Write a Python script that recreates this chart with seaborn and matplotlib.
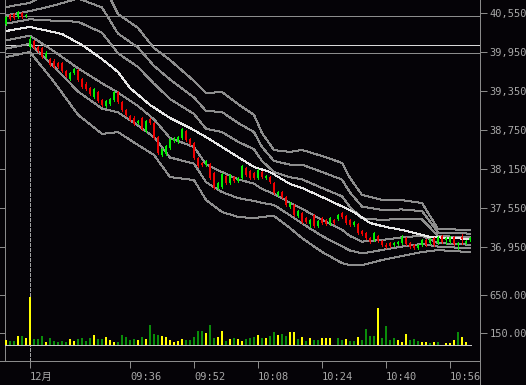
import matplotlib
matplotlib.use("Agg")
import numpy as np
import pandas as pd
import matplotlib.pyplot as plt
from matplotlib.lines import Line2D
import seaborn as sns

# ---------------- data ----------------
bar_index = list(range(-6, 111))
opens = [40380, 40520, 40535, 40490, 40550, 40505,
         40025, 40120, 40025, 40010, 39875, 39840, 39810, 39780, 39780, 39660,
         39535, 39625, 39675, 39535, 39460, 39395, 39260, 39335, 39210, 39120,
         39150, 39210, 39335, 39180, 39060, 38965, 38935, 38860, 38935, 38735,
         38920, 38860, 38640, 38365, 38380, 38475, 38580, 38565, 38625, 38735,
         38610, 38550, 38320, 38240, 38210, 38225, 38090, 37860, 37875, 38040,
         37935, 38025, 37965, 38010, 38165, 38120, 38090, 38010, 38105, 38010,
         38025, 37935, 37750, 37795, 37720, 37565, 37595, 37425, 37475, 37395,
         37305, 37440, 37275, 37395, 37365, 37305, 37365, 37380, 37475, 37425,
         37365, 37290, 37305, 37195, 37165, 37090, 37060, 37120, 37040, 36980,
         37010, 36980, 36995, 37010, 37090, 37010, 36980, 36935, 36980, 37060,
         37010, 37090, 37010, 37120, 37060, 37025, 37105, 36980, 37105, 37010,
         37060]
closes = [40490, 40460, 40475, 40565, 40490, 40520,
          40150, 40010, 39965, 39875, 39935, 39750, 39720, 39720, 39660, 39580,
          39625, 39690, 39520, 39410, 39380, 39305, 39380, 39195, 39135, 39195,
          39225, 39335, 39180, 39060, 38980, 38905, 38840, 38890, 38765, 38890,
          38860, 38625, 38395, 38460, 38505, 38610, 38610, 38640, 38765, 38595,
          38535, 38320, 38195, 38210, 38275, 38010, 37860, 37935, 38075, 37935,
          38060, 37965, 38010, 38195, 38060, 38010, 38010, 38135, 38025, 38040,
          37950, 37780, 37795, 37720, 37595, 37625, 37440, 37505, 37335, 37335,
          37365, 37275, 37350, 37320, 37305, 37395, 37320, 37440, 37410, 37320,
          37290, 37335, 37165, 37150, 37090, 37025, 37165, 37040, 36980, 36950,
          36965, 37010, 37025, 37105, 36995, 36950, 36935, 36980, 37060, 36980,
          37075, 36980, 37105, 37025, 37090, 37105, 36995, 37010, 37075, 37040,
          37090]
highs = [40505, 40535, 40550, 40580, 40565, 40535,
         40195, 40135, 40040, 40025, 39965, 39855, 39840, 39795, 39795, 39675,
         39640, 39705, 39690, 39550, 39490, 39410, 39395, 39350, 39225, 39210,
         39240, 39350, 39350, 39195, 39075, 38980, 38965, 38905, 38950, 38905,
         38935, 38875, 38655, 38475, 38520, 38625, 38640, 38655, 38780, 38750,
         38625, 38565, 38335, 38255, 38290, 38240, 38105, 37950, 38090, 38055,
         38075, 38040, 38025, 38210, 38180, 38135, 38105, 38150, 38120, 38055,
         38040, 37950, 37810, 37810, 37735, 37640, 37610, 37520, 37490, 37410,
         37380, 37455, 37365, 37410, 37380, 37410, 37380, 37455, 37490, 37440,
         37380, 37350, 37320, 37210, 37180, 37105, 37180, 37135, 37055, 37010,
         37025, 37025, 37040, 37135, 37105, 37025, 36995, 36995, 37075, 37075,
         37090, 37105, 37120, 37135, 37105, 37120, 37120, 37025, 37150, 37055,
         37105]
lows = [40365, 40445, 40460, 40475, 40475, 40490,
        40010, 39995, 39950, 39860, 39860, 39735, 39705, 39705, 39645, 39565,
        39520, 39610, 39505, 39395, 39365, 39290, 39245, 39180, 39120, 39105,
        39135, 39195, 39165, 39045, 38965, 38890, 38825, 38845, 38750, 38720,
        38845, 38610, 38380, 38350, 38365, 38460, 38565, 38550, 38610, 38580,
        38520, 38305, 38180, 38195, 38195, 37995, 37845, 37845, 37860, 37920,
        37920, 37950, 37950, 37995, 38045, 37995, 37995, 37995, 38010, 37995,
        37935, 37765, 37735, 37705, 37580, 37550, 37425, 37410, 37320, 37320,
        37260, 37260, 37260, 37305, 37290, 37290, 37305, 37365, 37395, 37305,
        37275, 37275, 37150, 37135, 37075, 37010, 37045, 37025, 36965, 36935,
        36950, 36965, 36980, 36995, 36980, 36935, 36920, 36920, 36965, 36965,
        36995, 36965, 36995, 37010, 36995, 37010, 36980, 36920, 37000, 36995,
        37045]
volumes = [65, 52, 52, 117, 117, 95,
           628, 78, 78, 117, 39, 91, 56, 39, 56, 39,
           78, 56, 78, 91, 52, 95, 130, 78, 78, 100,
           65, 39, 39, 130, 100, 65, 78, 65, 100, 78,
           260, 143, 130, 117, 100, 65, 39, 56, 78, 65,
           65, 100, 182, 182, 156, 260, 91, 104, 182, 52,
           78, 91, 78, 52, 78, 91, 104, 130, 91, 87,
           117, 169, 130, 143, 117, 169, 169, 78, 104, 52,
           91, 65, 65, 91, 91, 91, 0, 91, 65, 78,
           52, 52, 104, 65, 208, 117, 117, 481, 91, 247,
           65, 91, 65, 39, 143, 65, 78, 52, 39, 39,
           26, 39, 39, 0, 26, 26, 65, 169, 104, 39,
           0]
vol_colors = list("yggygy"
                  "yggg" "yggggg"
                  "yyggggygg" "yyyggggg" "ygy"
                  "gggyyyyyy" "gggggy" "ggyy"
                  "gygyygggyg"
                  "yggyggyygygygg" "yyygggy"
                  "ggyggggygggg"
                  "yyyggg" "yygygyyyy"
                  "gyyyy")

band_index = [-6, 0, 6, 12, 18, 22, 27, 31, 35, 41, 44, 48, 52, 56, 58, 61,
              65, 68, 73, 78, 80, 83, 88, 93, 98, 102, 110]
band_mid = [40258, 40327, 40196, 40058, 39858, 39627, 39419, 39188, 38927,
            38742, 38496, 38411, 38281, 38188, 38058, 37935, 37827, 37765,
            37612, 37473, 37342, 37212, 37212, 37242, 37250, 37065, 37042]
band_sigma = [128, 126, 235, 358, 389, 303, 300, 274, 300, 254, 274, 308, 289,
              265, 215, 169, 195, 226, 246, 257, 223, 180, 154, 143, 126, 54, 57]
# moving average (white line)
ma_index = [-6, 0, 8, 13, 18, 22, 25, 30, 35, 40, 44, 52, 56, 60, 65, 68, 73,
            81, 85, 89, 93, 100, 110]
ma_values = [40273, 40335, 40227, 40058, 39842, 39642, 39396, 39135, 38935,
             38781, 38642, 38335, 38181, 38104, 37919, 37858, 37719, 37488,
             37319, 37258, 37212, 37104, 37073]

ref_prices = [40505, 39930]
ref_price_bright = 40060
price_ticks = [36950, 37550, 38150, 38750, 39350, 39950, 40550]
vol_ticks = [150, 650]
time_tick_index = [0, 25, 41, 57, 73, 89, 105]
time_tick_labels = ["12月", "09:36", "09:52", "10:08", "10:24", "10:40", "10:56"]
session_break = 0

# ---------------- style ----------------
BG = "#050307"
AXC = "#8a8a8a"
TXT = "#a8a8a8"
UP = "#00f000"
DOWN = "#f00000"
VOL_C = {"y": "#ffff00", "g": "#0a8c0a"}
LW = 0.72

sns.set_theme(style="dark")
plt.rcParams["font.family"] = ["DejaVu Sans Mono", "Noto Sans CJK JP"]
plt.rcParams["lines.scale_dashes"] = False

W, H = 526, 385
fig = plt.figure(figsize=(W / 100, H / 100), dpi=100, facecolor=BG)
left, right, top, bottom = 5.3, 479.5, 0.0, 361.0
rect = [left / W, (H - bottom) / H, (right - left) / W, (bottom - top) / H]
ax = fig.add_axes(rect)
axv = fig.add_axes(rect)
ax.set_facecolor(BG)
axv.patch.set_alpha(0)


def price_at(ypix):
    return 40550 - (ypix - 13) * (600 / 39)


ax.set_ylim(price_at(bottom), price_at(top))
xl = ((left - 30) / 4, (right - 30) / 4)
ax.set_xlim(*xl)
axv.set_xlim(*xl)
axv.set_ylim((345 - bottom) * 13, 345 * 13)

# reference horizontal lines
for p in ref_prices:
    ax.axhline(p, color="#8c8c8c", lw=LW, antialiased=False, zorder=1)
ax.axhline(ref_price_bright, color="#d8d8d8", lw=LW, antialiased=False, zorder=1)

# bands
rows = []
for k in (-3, -2, -1, 1, 2, 3):
    for i, m, s in zip(band_index, band_mid, band_sigma):
        rows.append({"idx": i, "price": m + k * s, "band": f"{k:+d}"})
for i, m in zip(ma_index, ma_values):
    rows.append({"idx": i, "price": m, "band": "ma"})
bands = pd.DataFrame(rows)
pal = {f"{k:+d}": "#8e8e8e" for k in (-3, -2, -1, 1, 2, 3)}
pal["ma"] = "#e6e6e6"
sns.lineplot(data=bands, x="idx", y="price", hue="band", palette=pal,
             legend=False, ax=ax, linewidth=LW, sort=False, estimator=None,
             antialiased=False, zorder=2)
ax.set_xlabel("")
ax.set_ylabel("")

# candles
o = np.array(opens); c = np.array(closes)
cols = [UP if cc >= oo else DOWN for oo, cc in zip(o, c)]
ax.vlines(bar_index, lows, highs, colors=cols, lw=LW, antialiased=False, zorder=3)
ax.bar(bar_index, c - o, bottom=o, width=0.72, color=cols, linewidth=0,
       antialiased=False, zorder=4)

# session break
ax.axvline(session_break, ymin=0, ymax=(bottom - 45) / bottom, color="#a0a0a0",
           lw=LW, ls=(0, (2.2, 1.4)), antialiased=False, zorder=1)

# volume
axv.bar(bar_index, volumes, width=0.72, color=[VOL_C[v] for v in vol_colors],
        linewidth=0, antialiased=False, zorder=3)
axv.hlines(0, xl[0], 110.3, color="#c8c8c8", lw=LW, antialiased=False, zorder=4)

# spines / ticks
for a in (ax, axv):
    a.grid(False)
    for s in a.spines.values():
        s.set_visible(False)
for s in ("left", "right", "bottom"):
    ax.spines[s].set_visible(True)
    ax.spines[s].set_color(AXC)
    ax.spines[s].set_linewidth(LW)

ax.set_yticks(price_ticks, [f"{p:,}" for p in price_ticks])
ax.tick_params(axis="y", which="both", left=True, right=True, labelleft=False,
               labelright=True, direction="out", length=5, width=LW, color=AXC,
               labelcolor=TXT, labelsize=7.5, pad=2)
ax.set_xticks(time_tick_index, time_tick_labels)
ax.tick_params(axis="x", bottom=True, direction="out", length=5, width=LW,
               color=AXC, labelcolor=TXT, labelsize=7.5, pad=3)
for lbl in ax.get_xticklabels():
    lbl.set_horizontalalignment("left")

axv.set_xticks([])
axv.set_yticks(vol_ticks, [f"{v:.2f}" for v in vol_ticks])
axv.tick_params(axis="y", left=True, right=True, labelleft=False, labelright=True,
                direction="out", length=5, width=LW, color=AXC, labelcolor=TXT,
                labelsize=7.5, pad=2)
axv.set_xlabel(""); axv.set_ylabel("")

# frame extensions
fig.add_artist(Line2D([right / W, right / W], [0, (H - bottom) / H],
                      transform=fig.transFigure, color=AXC, lw=LW, antialiased=False))
fig.add_artist(Line2D([0, left / W], [(H - bottom) / H, (H - bottom) / H],
                      transform=fig.transFigure, color=AXC, lw=LW, antialiased=False))

fig.savefig("out.png", dpi=100, facecolor=BG)
